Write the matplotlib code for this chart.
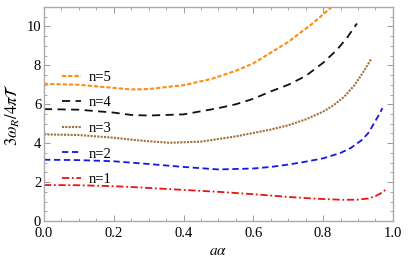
import matplotlib
matplotlib.use("Agg")
import matplotlib.pyplot as plt
from matplotlib.ticker import MultipleLocator, FormatStrFormatter

plt.rcParams['font.family'] = ['Liberation Serif', 'DejaVu Serif']
plt.rcParams['mathtext.fontset'] = 'stix'

x1 = [0, 0.1, 0.2, 0.25, 0.3, 0.4, 0.5, 0.55, 0.6, 0.7, 0.75, 0.8, 0.86, 0.9, 0.93, 0.95, 0.965, 0.975, 0.98]
y1 = [1.85, 1.84, 1.79, 1.75, 1.70, 1.60, 1.50, 1.44, 1.38, 1.24, 1.18, 1.13, 1.09, 1.10, 1.16, 1.28, 1.42, 1.55, 1.65]
x2 = [0, 0.1, 0.2, 0.25, 0.3, 0.4, 0.5, 0.6, 0.65, 0.7, 0.75, 0.8, 0.85, 0.88, 0.91, 0.93, 0.95, 0.96, 0.97]
y2 = [3.15, 3.13, 3.07, 3.0, 2.93, 2.78, 2.65, 2.70, 2.78, 2.90, 3.05, 3.22, 3.5, 3.76, 4.15, 4.53, 5.15, 5.45, 5.8]
x3 = [0, 0.1, 0.2, 0.25, 0.3, 0.36, 0.45, 0.55, 0.65, 0.7, 0.75, 0.8, 0.83, 0.86, 0.89, 0.915, 0.937]
y3 = [4.45, 4.42, 4.28, 4.18, 4.10, 4.02, 4.08, 4.35, 4.70, 4.92, 5.22, 5.62, 5.95, 6.38, 6.98, 7.65, 8.3]
x4 = [0, 0.1, 0.2, 0.25, 0.3, 0.4, 0.5, 0.55, 0.6, 0.65, 0.7, 0.75, 0.8, 0.84, 0.87, 0.897]
y4 = [5.75, 5.72, 5.57, 5.45, 5.42, 5.48, 5.80, 6.0, 6.28, 6.66, 7.0, 7.45, 8.13, 8.8, 9.45, 10.15]
x5 = [0, 0.1, 0.2, 0.25, 0.3, 0.4, 0.48, 0.55, 0.6, 0.65, 0.7, 0.735, 0.77, 0.8, 0.825, 0.84]
y5 = [7.05, 7.0, 6.84, 6.76, 6.78, 6.98, 7.3, 7.72, 8.1, 8.65, 9.2, 9.68, 10.15, 10.62, 11.0, 11.3]

labels = ['n=1', 'n=2', 'n=3', 'n=4', 'n=5']
colors = ['#ee1111', '#1515ee', '#a0703a', '#111111', '#ff8c10']

fig = plt.figure(figsize=(4.09, 2.66), dpi=100)
ax = fig.add_axes([0.1076, 0.169, 0.853, 0.805])

h1, = ax.plot(x1, y1, color=colors[0], lw=1.3, dashes=[4, 1.5, 1, 1.5], label=labels[0])
h2, = ax.plot(x2, y2, color=colors[1], lw=1.3, dashes=[3.5, 2], label=labels[1])
h3, = ax.plot(x3, y3, color=colors[2], lw=1.5, dashes=[1, 0.6], label=labels[2])
h4, = ax.plot(x4, y4, color=colors[3], lw=1.3, dashes=[4.5, 3], label=labels[3])
h5, = ax.plot(x5, y5, color=colors[4], lw=1.5, dashes=[2, 1], label=labels[4])

ax.set_xlim(0, 1.0)
ax.set_ylim(0, 11)
ax.xaxis.set_major_locator(MultipleLocator(0.2))
ax.xaxis.set_minor_locator(MultipleLocator(0.05))
ax.yaxis.set_major_locator(MultipleLocator(2))
ax.yaxis.set_minor_locator(MultipleLocator(0.5))
ax.xaxis.set_major_formatter(FormatStrFormatter('%.1f'))
ax.tick_params(which='both', direction='in', top=True, right=True, color='#999999', labelsize=10.5)
ax.tick_params(axis='y', pad=2)
ax.tick_params(axis='x', pad=4)
ax.tick_params(which='major', length=4, width=0.7)
ax.tick_params(which='minor', length=2, width=0.6)
for s in ax.spines.values():
    s.set_color('#aaaaaa')
    s.set_linewidth(1.0)

ax.set_xlabel(r'$a\alpha$', fontsize=11, labelpad=4)
ax.set_ylabel(r'$3\omega_R/4\pi\mathcal{T}$', fontsize=12, labelpad=3)

ax.legend(handles=[h5, h4, h3, h2, h1], loc='upper left', bbox_to_anchor=(0.035, 0.73),
          frameon=False, fontsize=10.5, handlelength=1.3, handletextpad=0.55,
          labelspacing=0.85, borderaxespad=0)

fig.savefig('out.png', dpi=100)
